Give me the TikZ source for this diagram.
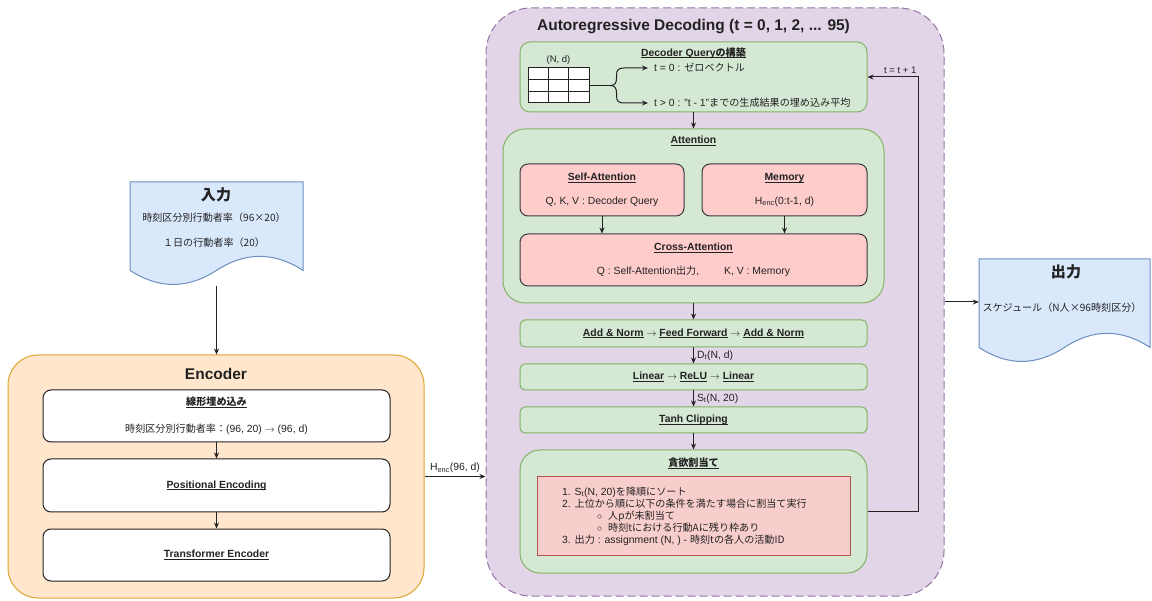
\documentclass[tikz,border=0pt]{standalone}
\usepackage{fontspec}
\setmainfont{Liberation Sans}
\newfontfamily\jpfont[Scale=0.97]{Noto Sans CJK JP}
\usetikzlibrary{arrows.meta,calc}

\definecolor{ink}{HTML}{222222}
\definecolor{grnF}{HTML}{D5E8D4}\definecolor{grnD}{HTML}{82B366}
\definecolor{redF}{HTML}{F8CECC}\definecolor{redD}{HTML}{B85450}
\definecolor{pinkF}{HTML}{FFCCCC}\definecolor{pinkD}{HTML}{36393D}
\definecolor{purF}{HTML}{E1D5E7}\definecolor{purD}{HTML}{9673A6}
\definecolor{orF}{HTML}{FFE6CC}\definecolor{orD}{HTML}{DDA52A}
\definecolor{bluF}{HTML}{DAE8FC}\definecolor{bluD}{HTML}{6C8EBF}

\newcommand\jp[1]{{\jpfont #1}}
\newcommand\ulx[1]{\setbox0\hbox{#1}\rlap{\rule[-1.9pt]{\wd0}{0.75pt}}\box0\relax}
\newcommand\rarr{\ensuremath{\rightarrow}}
\newcommand\bodyfs{\fontsize{10.4}{12}\selectfont}
\newcommand\titlefs{\fontsize{15.5}{18}\selectfont\bfseries}
\newcommand\smallfs{\fontsize{9.5}{11}\selectfont}

% document shape with a wavy lower edge: x0, y0, width, height (y grows downward)
\newcommand\docshape[4]{%
  \pgfmathsetmacro\docX{#1+#3}%
  \pgfmathsetmacro\docE{#2+0.85*#4}%
  \pgfmathsetmacro\docU{\docE-0.18*#4}%
  \pgfmathsetmacro\docD{\docE+0.18*#4}%
  \draw[docline] (#1,#2) -- (\docX,#2) -- (\docX,\docE)
    .. controls ({#1+5*#3/6},\docU) and ({#1+2*#3/3},\docU) .. ({#1+#3/2},\docE)
    .. controls ({#1+#3/3},\docD) and ({#1+#3/6},\docD) .. (#1,\docE) -- cycle;
}

\tikzset{
  every node/.style={font=\bodyfs, text=ink, align=center},
  docline/.style={draw=bluD, fill=bluF, line width=1pt},
  docarea/.style={inner sep=0pt, minimum width=#1, minimum height=104},
  titletext/.style={font=\titlefs},
  bold/.style={font=\bodyfs\bfseries},
  greenbox/.style={draw=grnD, fill=grnF, line width=1pt, rounded corners=#1, inner sep=0pt},
  greenbox/.default=5pt,
  pinkbox/.style={draw=pinkD, fill=pinkF, line width=1pt, rounded corners=8pt, inner sep=0pt},
  redbox/.style={draw=redD, fill=redF, line width=1pt, inner sep=0pt},
  whitebox/.style={draw=ink, fill=white, line width=1pt, rounded corners=8pt, inner sep=0pt,
    minimum width=347, minimum height=52},
  gridbox/.style={draw=ink, fill=white, line width=1pt, inner sep=0pt,
    minimum width=61, minimum height=35},
  line/.style={draw=ink, line width=1pt},
  arr/.style={line, -{Stealth[length=6pt,width=5pt]}},
  lbl/.style={font=\bodyfs, inner sep=3pt},
}

\begin{document}
\begin{tikzpicture}[x=1pt,y=-1pt]
\useasboundingbox (0,0) rectangle (1152,601);

% ---------- input document ----------
\node[docarea=173] (in) at (216.5,234) {};
\docshape{130}{182}{173}{104}
\node[titletext] (inT) at (216,195) {\jp{入力}};
\node (inA) at (214,218) {\jp{時刻区分別行動者率（96×20）}};
\node (inB) at (214,243) {\jp{１日の行動者率（20）}};

% ---------- encoder ----------
\node[draw=orD, fill=orF, line width=1pt, rounded corners=30pt,
      minimum width=416, minimum height=243] (enc) at (216,476.5) {};
\node[titletext] (encT) at (216,374) {Encoder};
\node[whitebox] (lin) at (216.5,416)
  {\textbf{\ulx{\jp{線形埋め込み}}}\\[14.5pt]\jp{時刻区分別行動者率：}(96, 20) \rarr{} (96, d)};
\node[whitebox, minimum height=53] (pe) at (216.5,485.5) {\textbf{\ulx{Positional Encoding}}};
\node[whitebox] (te) at (216.5,555) {\textbf{\ulx{Transformer Encoder}}};

\draw[arr] (in.south) -- (in.south |- enc.north);
\draw[arr] (lin) -- (pe);
\draw[arr] (pe) -- (te);

% ---------- decoder ----------
\node[draw=purD, fill=purF, line width=1pt, dash pattern=on 8pt off 4pt,
      rounded corners=45pt, minimum width=458, minimum height=588] (dec) at (715,302) {};
\node[titletext] (decT) at (693.5,27) {Autoregressive Decoding (t = 0, 1, 2, ... 95)};

% decoder query
\node[greenbox=10pt, minimum width=347, minimum height=70] (qry) at (693.5,77) {};
\node[bold] (qryT) at (693.5,53) {\ulx{Decoder Query\jp{の構築}}};
\node[gridbox] (qgrid) at (558.5,85.5) {};
\foreach \k in {1,2} {
  \draw[line] ($(qgrid.north west)!\k/3!(qgrid.north east)$) -- ($(qgrid.south west)!\k/3!(qgrid.south east)$);
  \draw[line] ($(qgrid.north west)!\k/3!(qgrid.south west)$) -- ($(qgrid.north east)!\k/3!(qgrid.south east)$);
}
\node[font=\smallfs] (qdim) at (558.5,60) {(N, d)};
\node[anchor=west, inner xsep=6pt] (t0) at (648,68) {t = 0 : \jp{ゼロベクトル}};
\node[anchor=west, inner xsep=6pt] (t1) at (648,103) {t > 0 : "t - 1"\jp{までの生成結果の埋め込み平均}};
\coordinate (brc) at (610,85.5);
\draw[line] (qgrid.east) -- (brc);
\draw[arr] (brc) .. controls (615,85.5) and (616.5,83) .. (616.5,78) -- (616.5,75)
  .. controls (616.5,70) and (618.5,68) .. (624,68) -- (t0.west);
\draw[arr] (brc) .. controls (615,85.5) and (616.5,88) .. (616.5,93) -- (616.5,96)
  .. controls (616.5,101) and (618.5,103) .. (624,103) -- (t1.west);

% attention
\node[greenbox=22pt, minimum width=381, minimum height=174] (att) at (693.5,216) {};
\node[bold] (attT) at (693.5,141) {\ulx{Attention}};
\node[pinkbox, minimum width=164, minimum height=52] (sa) at (602,190)
  {\textbf{\ulx{Self-Attention}}\\[11.5pt]Q, K, V : Decoder Query};
\node[pinkbox, minimum width=165, minimum height=52] (mem) at (784.5,190)
  {\textbf{\ulx{Memory}}\\[11.5pt]H\textsubscript{enc}(0:t-1, d)};
\node[pinkbox, minimum width=347, minimum height=52] (ca) at (693.5,260)
  {\textbf{\ulx{Cross-Attention}}\\[12.5pt]Q : Self-Attention\jp{出力},\hspace{2.4em}K, V : Memory};
\draw[arr] (sa.south) -- (sa.south |- ca.north);
\draw[arr] (mem.south) -- (mem.south |- ca.north);

% feed-forward stack
\node[greenbox, minimum width=347, minimum height=27] (ffn) at (693.5,333.5)
  {\textbf{\ulx{Add \& Norm} \rarr{} \ulx{Feed Forward} \rarr{} \ulx{Add \& Norm}}};
\node[greenbox, minimum width=347, minimum height=26] (mlp) at (693.5,377)
  {\textbf{\ulx{Linear} \rarr{} \ulx{ReLU} \rarr{} \ulx{Linear}}};
\node[greenbox, minimum width=347, minimum height=26] (tanh) at (693.5,420)
  {\textbf{\ulx{Tanh Clipping}}};

% greedy assignment
\node[greenbox=20pt, minimum width=347, minimum height=123] (gr) at (693.5,511.5) {};
\node[bold] (grT) at (693.5,463) {\ulx{\jp{貪欲割当て}}};
\node[redbox, minimum width=313, minimum height=78] (grl) at (693.5,516) {};
\node[anchor=west, align=left, inner sep=0pt] (grtxt) at (562,516)
  {1. S\textsubscript{t}(N, 20)\jp{を降順にソート}\\
   2. \jp{上位から順に以下の条件を満たす場合に割当て実行}\\
   \hspace*{35pt}$\circ$\hspace*{6pt}\jp{人pが未割当て}\\
   \hspace*{35pt}$\circ$\hspace*{6pt}\jp{時刻tにおける行動Aに残り枠あり}\\
   3. \jp{出力} : assignment (N, ) - \jp{時刻tの各人の活動ID}};

\draw[arr] (qry) -- (att);
\draw[arr] (att) -- (ffn);
\draw[arr] (ffn) -- node[lbl, anchor=west] {D\textsubscript{t}(N, d)} (mlp);
\draw[arr] (mlp) -- node[lbl, anchor=west] {S\textsubscript{t}(N, 20)} (tanh);
\draw[arr] (tanh) -- (gr);

% loop back to the query
\coordinate (loop) at (918,300);
\draw[arr] (gr.east) -- (gr.east -| loop) -- (loop |- qry.east)
  -- node[lbl, font=\smallfs, above, pos=0.35] {t = t + 1} (qry.east);

% ---------- output document ----------
\node[docarea=171] (out) at (1064.5,311) {};
\docshape{979}{259}{171}{104}
\node[titletext] (outT) at (1066,272) {\jp{出力}};
\node (outA) at (1062,308) {\jp{スケジュール（N人×96時刻区分）}};

% ---------- links between blocks ----------
\draw[arr] (enc.east) -- node[lbl, above] {H\textsubscript{enc}(96, d)} (enc.east -| dec.west);
\draw[arr] (dec.east) -- (dec.east -| out.west);
\end{tikzpicture}
\end{document}
